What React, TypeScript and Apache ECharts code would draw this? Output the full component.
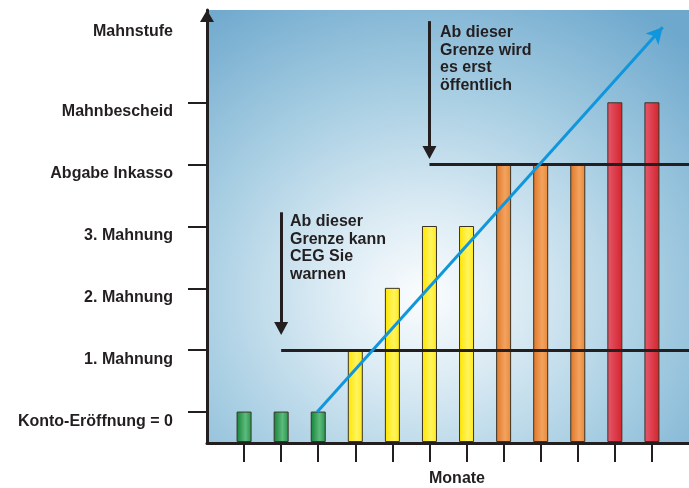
import React, { useEffect, useRef } from "react";
import * as echarts from "echarts";

// ---- data ----
const monthPositions = [1, 2, 3, 4, 5, 6, 7, 8, 9, 10, 11, 12];
const stageByMonth = [0, 0, 0, 1, 2, 3, 3, 4, 4, 4, 5, 5];
const stageValues = [0, 1, 2, 3, 4, 5];
const stageLabels = [
  "Konto-Eröffnung = 0",
  "1. Mahnung",
  "2. Mahnung",
  "3. Mahnung",
  "Abgabe Inkasso",
  "Mahnbescheid",
];
const yAxisTitle = "Mahnstufe";
const xAxisTitle = "Monate";
const noteWarn = ["Ab dieser", "Grenze kann", "CEG Sie", "warnen"];
const notePublic = ["Ab dieser", "Grenze wird", "es erst", "öffentlich"];
// threshold lines: [startMonth, endMonth, stage]
const warnLine = [2, 13, 1];
const publicLine = [6, 13, 4];
// annotation arrows: [month, fromStage, toStage]
const warnArrow = [2, 3.23, 1.35];
const publicArrow = [6, 6.32, 4.195];
// trend arrow: [fromMonth, fromStage, toMonth, toStage]
const trendArrow = [2.97, 0, 12.29, 6.22];

const Y_MIN = -0.5;
const Y_MAX = 6.5;
const X_MIN = 0;
const X_MAX = 13;

const INK = "#231f20";
const FONT = "Liberation Sans, Arial, sans-serif";

const grad = (stops: [number, string][]) =>
  new echarts.graphic.LinearGradient(
    0,
    0,
    1,
    0,
    stops.map(([offset, color]) => ({ offset, color }))
  );

const stageFill = (s: number) => {
  if (s === 0)
    return grad([
      [0, "#17853d"],
      [0.6, "#5dbb7c"],
      [1, "#2a9550"],
    ]);
  if (s <= 3)
    return grad([
      [0, "#ffe600"],
      [0.6, "#fff460"],
      [1, "#ffec1a"],
    ]);
  if (s === 4)
    return grad([
      [0, "#e0782c"],
      [0.6, "#f3a35e"],
      [1, "#e98a3e"],
    ]);
  return grad([
    [0, "#e5566b"],
    [1, "#d4262e"],
  ]);
};

export default function App() {
  const ref = useRef<HTMLDivElement>(null);

  useEffect(() => {
    if (!ref.current) return;
    const chart = echarts.init(ref.current, null, { renderer: "svg" });

    const barData = monthPositions.map((m, i) => [m, stageByMonth[i]]);

    const lineStyleBlack = { color: INK, width: 3, type: "solid" as const };

    chart.setOption({
      animation: false,
      grid: {
        left: 207,
        right: 0,
        top: 10,
        bottom: 45,
        containLabel: false,
        outerBoundsMode: "none",
        show: true,
        borderWidth: 0,
        backgroundColor: new echarts.graphic.RadialGradient(0.45, 0.66, 0.8, [
          { offset: 0, color: "#fbfdfe" },
          { offset: 0.25, color: "#dbebf4" },
          { offset: 0.6, color: "#a6cde2" },
          { offset: 1, color: "#6ea8cd" },
        ]),
      },
      xAxis: {
        type: "value",
        min: X_MIN,
        max: X_MAX,
        name: xAxisTitle,
        nameLocation: "middle",
        nameGap: 26,
        nameTextStyle: {
          fontFamily: FONT,
          fontWeight: "bold",
          fontSize: 16,
          color: INK,
          padding: [0, 0, 0, 18],
        },
        axisLine: {
          show: true,
          onZero: false,
          lineStyle: { color: INK, width: 3 },
        },
        axisTick: {
          show: true,
          customValues: monthPositions,
          length: 19,
          lineStyle: { color: INK, width: 2 },
        },
        axisLabel: { show: false },
        splitLine: { show: false },
      },
      yAxis: {
        type: "value",
        min: Y_MIN,
        max: Y_MAX,
        axisLine: {
          show: true,
          onZero: false,
          symbol: ["none", "triangle"],
          symbolSize: [14, 12],
          symbolOffset: [0, -6],
          lineStyle: { color: INK, width: 3 },
        },
        axisTick: {
          show: true,
          customValues: stageValues,
          length: 19,
          lineStyle: { color: INK, width: 2 },
        },
        axisLabel: {
          show: true,
          customValues: stageValues,
          formatter: (v: number) => stageLabels[Math.round(v)] ?? "",
          margin: 34,
          fontFamily: FONT,
          fontWeight: "bold",
          fontSize: 16,
          color: INK,
          verticalAlign: "top",
          lineHeight: 16,
        },
        splitLine: { show: false },
      },
      series: [
        {
          type: "custom",
          z: 2,
          data: barData,
          renderItem: (params: any, api: any) => {
            const x = api.value(0);
            const v = api.value(1);
            const top = api.coord([x, v]);
            const base = api.coord([x, Y_MIN]);
            const w = 14;
            return {
              type: "rect",
              shape: {
                x: top[0] - w / 2,
                y: top[1],
                width: w,
                height: base[1] - top[1] - 1.5,
              },
              style: {
                fill: stageFill(v),
                stroke: "#3a3324",
                lineWidth: 1,
              },
            };
          },
        },
        {
          type: "line",
          z: 5,
          data: [],
          markLine: {
            silent: true,
            animation: false,
            label: { show: false },
            emphasis: { disabled: true },
            data: [
              [
                {
                  coord: [warnLine[0], warnLine[2]],
                  symbol: "none",
                  lineStyle: lineStyleBlack,
                },
                { coord: [warnLine[1], warnLine[2]], symbol: "none" },
              ],
              [
                {
                  coord: [publicLine[0], publicLine[2]],
                  symbol: "none",
                  lineStyle: lineStyleBlack,
                },
                { coord: [publicLine[1], publicLine[2]], symbol: "none" },
              ],
              [
                {
                  coord: [warnArrow[0], warnArrow[1]],
                  symbol: "none",
                  lineStyle: lineStyleBlack,
                },
                {
                  coord: [warnArrow[0], warnArrow[2]],
                  symbol: "triangle",
                  symbolSize: [14, 13],
                },
              ],
              [
                {
                  coord: [publicArrow[0], publicArrow[1]],
                  symbol: "none",
                  lineStyle: lineStyleBlack,
                },
                {
                  coord: [publicArrow[0], publicArrow[2]],
                  symbol: "triangle",
                  symbolSize: [14, 13],
                },
              ],
              [
                {
                  coord: [trendArrow[0], trendArrow[1]],
                  symbol: "none",
                  lineStyle: { color: "#0f96dc", width: 3, type: "solid" },
                },
                {
                  coord: [trendArrow[2], trendArrow[3]],
                  symbol: "arrow",
                  symbolSize: [13, 16],
                },
              ],
            ],
          },
        },
      ],
      graphic: [
        {
          type: "text",
          x: 173,
          y: 30,
          style: {
            text: yAxisTitle,
            font: `bold 16px ${FONT}`,
            fill: INK,
            align: "right",
            verticalAlign: "middle",
          },
        },
        {
          type: "text",
          x: 290,
          y: 212,
          style: {
            text: noteWarn.join("\n"),
            font: `bold 16px ${FONT}`,
            lineHeight: 17.5,
            fill: INK,
            align: "left",
            verticalAlign: "top",
          },
        },
        {
          type: "text",
          x: 440,
          y: 23,
          style: {
            text: notePublic.join("\n"),
            font: `bold 16px ${FONT}`,
            lineHeight: 17.5,
            fill: INK,
            align: "left",
            verticalAlign: "top",
          },
        },
      ],
    });

    return () => chart.dispose();
  }, []);

  return (
    <div
      ref={ref}
      style={{ position: "fixed", left: 0, top: 0, width: 689, height: 488 }}
    />
  );
}
